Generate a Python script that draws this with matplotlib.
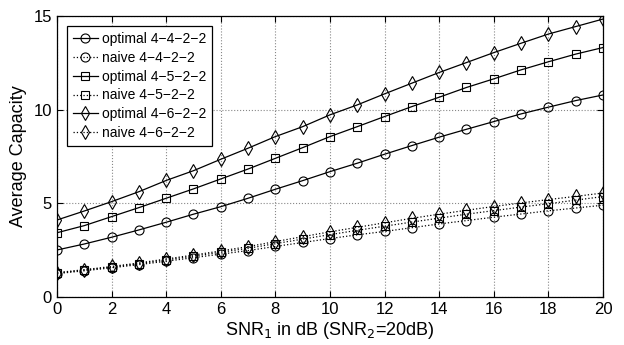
import matplotlib
matplotlib.use("Agg")
import matplotlib.pyplot as plt
import numpy as np

snr1 = list(range(0, 21))

opt_442 = [2.51, 2.83, 3.19, 3.58, 3.99, 4.42, 4.82, 5.27, 5.75, 6.21, 6.69,
           7.14, 7.62, 8.08, 8.53, 8.95, 9.36, 9.77, 10.13, 10.48, 10.78]
naive_442 = [1.25, 1.40, 1.56, 1.73, 1.91, 2.10, 2.29, 2.48, 2.70, 2.91, 3.12,
             3.32, 3.50, 3.70, 3.90, 4.08, 4.26, 4.43, 4.60, 4.75, 4.90]
opt_452 = [3.43, 3.81, 4.29, 4.77, 5.27, 5.77, 6.30, 6.83, 7.40, 7.97, 8.56,
           9.09, 9.63, 10.16, 10.66, 11.18, 11.64, 12.12, 12.55, 12.96, 13.31]
naive_452 = [1.28, 1.44, 1.60, 1.78, 1.98, 2.18, 2.39, 2.60, 2.85, 3.09, 3.33,
             3.56, 3.78, 4.00, 4.21, 4.42, 4.61, 4.80, 4.98, 5.17, 5.36]
opt_462 = [4.11, 4.59, 5.09, 5.62, 6.22, 6.74, 7.35, 7.94, 8.56, 9.09, 9.72,
           10.25, 10.84, 11.41, 11.98, 12.51, 13.04, 13.54, 14.03, 14.43, 14.83]
naive_462 = [1.30, 1.46, 1.63, 1.82, 2.03, 2.24, 2.46, 2.69, 2.96, 3.22, 3.48,
             3.72, 3.96, 4.20, 4.42, 4.63, 4.83, 5.02, 5.20, 5.37, 5.55]

labels = ["optimal 4\u22124\u22122\u22122", "naive 4\u22124\u22122\u22122",
          "optimal 4\u22125\u22122\u22122", "naive 4\u22125\u22122\u22122",
          "optimal 4\u22126\u22122\u22122", "naive 4\u22126\u22122\u22122"]
xticks = list(range(0, 21, 2))
yticks = [0, 5, 10, 15]

plt.rcParams['font.family'] = ['Liberation Sans', 'DejaVu Sans']

fig = plt.figure(figsize=(6.24, 3.45), dpi=100)
ax = fig.add_axes([0.0913, 0.139, 0.875, 0.815])

series = [(opt_442, 'o', '-', labels[0]), (naive_442, 'o', ':', labels[1]),
          (opt_452, 's', '-', labels[2]), (naive_452, 's', ':', labels[3]),
          (opt_462, 'd', '-', labels[4]), (naive_462, 'd', ':', labels[5])]
for vals, m, ls, lab in series:
    ms = {'o': 6.5, 's': 5.5, 'd': 7.2}[m]
    ax.plot(snr1, vals, linestyle=ls, marker=m, color='black', lw=0.9,
            markersize=ms, markerfacecolor='none', markeredgecolor='black',
            markeredgewidth=0.8, label=lab)

ax.set_xlim(0, 20)
ax.set_ylim(0, 15)
ax.set_xticks(xticks)
ax.set_yticks(yticks)
ax.tick_params(direction='in', labelsize=12, top=True, right=True, length=4)
ax.grid(True, linestyle=':', color='#888888', lw=0.8)
ax.set_xlabel('SNR$_1$ in dB (SNR$_2$=20dB)', fontsize=13, labelpad=2)
ax.set_ylabel('Average Capacity', fontsize=13, labelpad=5)
for s in ax.spines.values():
    s.set_linewidth(0.9)

leg = ax.legend(loc='upper left', fontsize=10, handlelength=1.8,
                handletextpad=0.3, borderaxespad=0.75, labelspacing=0.35,
                fancybox=False, framealpha=1, edgecolor='black',
                borderpad=0.4)
leg.get_frame().set_linewidth(0.9)

fig.savefig('out.png', dpi=100)
